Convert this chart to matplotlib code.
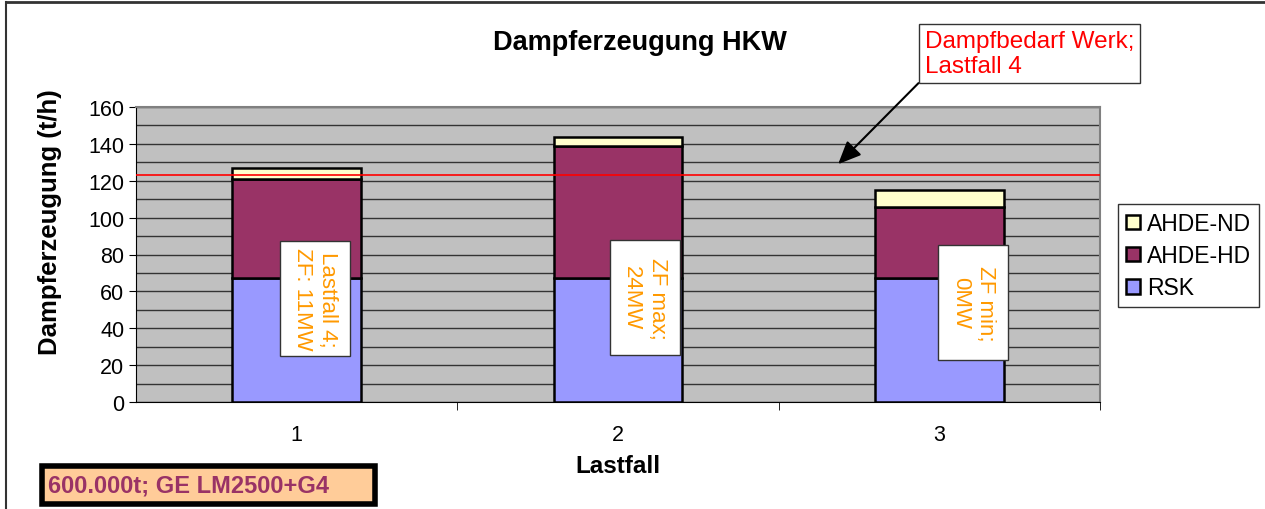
import matplotlib.pyplot as plt
import matplotlib.patches as mpatches
import numpy as np

plt.rcParams['font.family'] = ['Liberation Sans', 'DejaVu Sans']

# data
lastfall = ['1', '2', '3']
rsk = [67, 67, 67]
ahde_hd = [54, 72, 39]
ahde_nd = [6, 5, 9]
bedarf = 123
notes = ['Lastfall 4;\nZF: 11MW', 'ZF max;\n24MW', 'ZF min;\n0MW']
note_pos = [(0.057, 56), (1.083, 56.7), (2.105, 54)]

W, H = 1265, 510
fig = plt.figure(figsize=(W / 100, H / 100), dpi=100)
ax = fig.add_axes([136 / W, (H - 403) / H, 964 / W, 295 / H])

x = np.arange(len(lastfall))
bw = 0.4
ax.bar(x, rsk, bw, color='#9999FF', edgecolor='black', lw=1.8, label='RSK', zorder=3)
ax.bar(x, ahde_hd, bw, bottom=rsk, color='#993366', edgecolor='black', lw=1.8,
       label='AHDE-HD', zorder=3)
ax.bar(x, ahde_nd, bw, bottom=np.add(rsk, ahde_hd), color='#FFFFCC', edgecolor='black',
       lw=1.8, label='AHDE-ND', zorder=3)
ax.axhline(bedarf, color='#FF0000', lw=1.2, zorder=4)

ax.set_facecolor('#C0C0C0')
ax.set_xlim(-0.5, 2.5)
ax.set_ylim(0, 160)
ax.set_yticks(range(0, 161, 20))
ax.set_yticks(range(0, 161, 10), minor=True)
ax.yaxis.grid(True, which='both', color='#333333', lw=1, zorder=1)
ax.tick_params(axis='y', which='minor', length=0)
ax.tick_params(axis='y', which='major', labelsize=15.5, length=5, direction='out')
ax.set_xticks(x)
ax.set_xticklabels(lastfall, fontsize=15.5)
ax.set_xticks([0.5, 1.5, 2.5], minor=True)
ax.tick_params(axis='x', which='major', length=0, pad=16)
ax.tick_params(axis='x', which='minor', length=6)
for s in ['top', 'right']:
    ax.spines[s].set_color('#808080')
    ax.spines[s].set_linewidth(1.5)
for s in ['left', 'bottom']:
    ax.spines[s].set_color('black')

fig.text(640 / W, 1 - 43 / H, 'Dampferzeugung HKW', ha='center', va='center',
         fontsize=19.5, fontweight='bold')
ax.set_ylabel('Dampferzeugung (t/h)', fontsize=18.5, fontweight='bold')
ax.yaxis.set_label_coords((62 - 136) / 964, (403 - 222) / 295)
ax.set_xlabel('Lastfall', fontsize=17.5, fontweight='bold', labelpad=6)

# fixed-size note boxes (about 70 x 115 px)
bx_w, bx_h = 70 / 321.3, 115 / 1.844
for t, (px, py) in zip(notes, note_pos):
    ax.add_patch(mpatches.Rectangle((px - bx_w / 2, py - bx_h / 2), bx_w, bx_h,
                                    fc='white', ec='#333333', lw=1, zorder=5))
    ax.text(px, py, t, rotation=-90, ha='center', va='center', color='#FF9900',
            fontsize=16, linespacing=1.3, zorder=6)

ax.annotate('Dampfbedarf Werk;\nLastfall 4', xy=(1.685, 129),
            xytext=(925 / W, 1 - 31 / H), textcoords='figure fraction',
            ha='left', va='top', color='#FF0000', fontsize=17.5, linespacing=1.15,
            bbox=dict(boxstyle='square,pad=0.25', fc='white', ec='#333333', lw=1),
            arrowprops=dict(arrowstyle='-|>,head_length=0.8,head_width=0.35',
                            color='black', lw=1.5,
                            shrinkA=0, shrinkB=0, relpos=(0, 0)))

h, l = ax.get_legend_handles_labels()
leg = fig.legend(h[::-1], l[::-1], loc='upper left',
                 bbox_to_anchor=(1118 / W, 1 - 205 / H), fontsize=16.5,
                 frameon=True, fancybox=False, edgecolor='black',
                 handlelength=0.6, handleheight=0.6, handletextpad=0.3,
                 borderpad=0.35, labelspacing=0.4, borderaxespad=0)
leg.get_frame().set_linewidth(1)

# bottom info box
fig.add_artist(mpatches.Rectangle((42 / W, 1 - 505 / H), 333 / W, 38 / H,
                                  transform=fig.transFigure, fc='#FFCC99',
                                  ec='black', lw=4))
fig.text(48 / W, 1 - 486 / H, '600.000t; GE LM2500+G4', ha='left', va='center',
         color='#993366', fontsize=17, fontweight='bold')

# outer frame (left and top edges visible)
fig.add_artist(plt.Line2D([6 / W, 6 / W], [0, 1 - 3 / H], color='#333333', lw=1.5))
fig.add_artist(plt.Line2D([6 / W, 1], [1 - 3 / H, 1 - 3 / H], color='#333333', lw=2))

fig.savefig('out.png', dpi=100)
